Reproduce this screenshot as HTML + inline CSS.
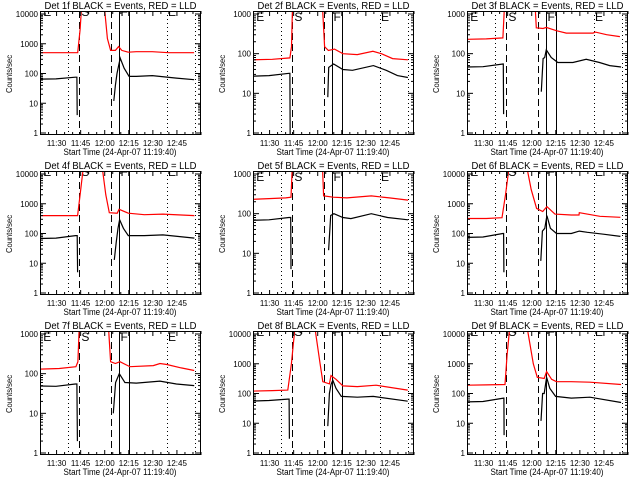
<!DOCTYPE html>
<html><head><meta charset="utf-8"><style>
html,body{margin:0;padding:0;background:#fff;}
svg{display:block;}
text{font-family:"Liberation Sans",sans-serif;fill:#000;}
</style></head><body>
<svg id="chart" width="640" height="480" viewBox="0 0 640 480" xmlns="http://www.w3.org/2000/svg">
<rect x="0" y="0" width="640" height="480" fill="#fff"/>
</svg>
<script>
// ---- shared axis data ----
const xTickLabels = ["11:30","11:45","12:00","12:15","12:30","12:45"];
const xTickMinutes = [10.33,25.33,40.33,55.33,70.33,85.33];
const markerMinutes = [17.5,24.4,44.2,49.4,55.6,79.1,96.6];
const markerStyles = ["dotted","dashed","dashed","solid","solid","dotted","dotted"];
const letterMinutes = [2,25.8,50.2,79.8];
const letterTexts = ["E","S","F","E"];
const detectorNames = ["1f","2f","3f","4f","5f","6f","7f","8f","9f"];
const decades = [4,3,3,4,3,4,3,4,4];

// ---- series data (minutes since 11:19:40, counts/sec); null = gap ----
const p1BlackT=[0,10,22,23,23.2,null,46,47,48,50,52.5,55.5,60,70,85,96];
const p1BlackV=[65,66,75,75,4,null,12,40,100,330,150,80,80,85,70,62];
const p1RedT=[0,23.5,25,26,40,42,44,47,49,51,55,60,70,80,96];
const p1RedV=[500,500,3000,20000,20000,1500,600,600,800,600,520,540,540,500,500];

const p2BlackT=[0,10,22.5,23,23.2,null,46.6,47.2,50.2,56,62,75,83,90,96.5];
const p2BlackV=[27,28,32,32,0.5,null,8,45,55,40,38,50,38,28,25];
const p2RedT=[0,12,23,24,24.9,42.6,44.6,47,50.8,56,65,74.7,80,87,96.5];
const p2RedV=[70,72,78,150,5000,5000,150,120,130,100,95,115,100,75,70];

const p3BlackT=[0,10,22.4,22.6,22.8,null,46.3,47.4,48.4,49.4,52.5,56.6,66,74.3,82.6,88.9,96];
const p3BlackV=[46,47,55,55,3,null,11,75,80,125,80,60,60,72,60,50,46];
const p3RedT=[0,12,22.4,23.9,41.8,43.2,47.4,49.4,55.7,61.9,78.5,80,87,95.3];
const p3RedV=[230,235,250,5000,5000,450,430,460,380,330,330,350,300,270];

const p4BlackT=[0,10,22.1,23.2,23.4,null,46.3,47.5,48.6,49.6,52,55,65,76.6,96.2];
const p4BlackV=[68,70,85,85,5,null,13,50,150,290,150,85,85,90,70];
const p4RedT=[0,23.4,25,27.2,38.6,41,43.2,48.1,49.3,55,65,76.6,96.2];
const p4RedV=[400,400,2000,20000,20000,2000,500,480,650,480,430,450,400];

const p5BlackT=[0,10,22.4,23.5,23.7,null,47.1,48.4,50.4,56,61,73.7,83.9,96.6];
const p5BlackV=[68,70,80,80,4,null,12,90,100,80,75,100,80,70];
const p5RedT=[0,10,20.4,23.7,25,42.8,44,50,58.5,73.7,85,96.6];
const p5RedV=[230,240,250,260,5000,5000,280,260,250,280,250,220];

const p6BlackT=[0,10,22.3,22.8,23,null,46,47,48.5,49.8,52,55.8,65,70,75,85,95.6];
const p6BlackV=[74,76,100,100,5,null,12,120,150,400,150,100,100,120,110,95,80];
const p6RedT=[0,12,21.8,24,26.4,37,40,43.4,47.2,49.8,54.8,65,69.8,70,82.8,95.6];
const p6RedV=[320,320,340,2000,20000,20000,3000,700,550,800,450,420,420,500,380,350];

const p7BlackT=[0,10,22,23,23.3,null,45.7,47.1,49.4,52.9,60,74.8,85,96.1];
const p7BlackV=[49,48,55,55,2,null,10,60,100,60,58,65,55,50];
const p7RedT=[0,12,22.4,23.6,24.9,41.9,44,47,49.8,56,70.6,74.8,79,88,96.1];
const p7RedV=[130,135,150,200,5000,5000,200,180,200,150,160,180,170,140,120];

const p8BlackT=[0,10,21.7,22.5,22.7,null,46.6,47.6,48.6,49.7,51.7,55,65,74.9,96.4];
const p8BlackV=[56,58,65,65,3,null,8,100,200,280,150,80,75,80,55];
const p8RedT=[0,12,21.7,23.9,26.3,38.3,41.8,43.5,47.6,48.6,51.7,56,65,76.7,96.4];
const p8RedV=[120,125,130,1000,20000,20000,1000,250,210,400,300,180,170,190,130];

const p9BlackT=[0,10,22.8,23,23.1,null,46.1,47.1,48.1,49.6,51.6,55.2,65,76.6,96];
const p9BlackV=[52,54,70,70,4,null,12,100,100,350,150,80,70,75,50];
const p9RedT=[0,12,23.7,25,26.8,37.2,41.3,43.8,48.1,49.6,52.7,55.8,65,76.6,96];
const p9RedV=[190,195,200,2000,20000,20000,1000,350,320,550,300,250,250,240,200];

const blackT=[p1BlackT,p2BlackT,p3BlackT,p4BlackT,p5BlackT,p6BlackT,p7BlackT,p8BlackT,p9BlackT];
const blackV=[p1BlackV,p2BlackV,p3BlackV,p4BlackV,p5BlackV,p6BlackV,p7BlackV,p8BlackV,p9BlackV];
const redT=[p1RedT,p2RedT,p3RedT,p4RedT,p5RedT,p6RedT,p7RedT,p8RedT,p9RedT];
const redV=[p1RedV,p2RedV,p3RedV,p4RedV,p5RedV,p6RedV,p7RedV,p8RedV,p9RedV];

const NS="http://www.w3.org/2000/svg";
const svg=document.getElementById('chart');
function mk(tag,attrs,parent){const e=document.createElementNS(NS,tag);for(const k in attrs)e.setAttribute(k,attrs[k]);(parent||svg).appendChild(e);return e;}

const colX=[0,213,427], rowY=[0,160,320];
const PXMIN=161/100.33;

for(let p=0;p<9;p++){
  const ox=colX[p%3], oy=rowY[Math.floor(p/3)];
  const L=ox+40,R=ox+201,T=oy+11,B=oy+135;
  const nd=decades[p];
  const yBase=oy+133, ys=(133-14)/nd;
  const xs=t=>L+t*PXMIN;
  const yv=v=>yBase-Math.log10(v)*ys;
  const g=mk('g',{});
  
  
  const clipId='clip'+p;
  const cp=mk('clipPath',{id:clipId},g);
  mk('rect',{x:L,y:T,width:R-L,height:B-T},cp);

  // title
  const title=mk('text',{x:(L+R)/2,y:oy+9,'font-size':10,'text-anchor':'middle',textLength:152,lengthAdjust:'spacingAndGlyphs'},g);
  title.textContent='Det '+detectorNames[p]+' BLACK = Events, RED = LLD';
  
  

  // markers
  for(let i=0;i<markerMinutes.length;i++){
    const x=Math.round(xs(markerMinutes[i]))+0.5;
    const st=markerStyles[i];
    const ln=mk('line',{x1:x,x2:x,y1:T,y2:B,stroke:'#000','stroke-width':1},g);
    if(st==='dotted')ln.setAttribute('stroke-dasharray','1 3');
    if(st==='dashed')ln.setAttribute('stroke-dasharray','7 4');
    
    
  }
  // letters
  const lg=mk('g',{'clip-path':'url(#'+clipId+')'},g);
  for(let i=0;i<letterMinutes.length;i++){
    const lt=mk('text',{x:xs(letterMinutes[i]),y: nd===3? T+10 : T+5,'font-size':12},lg);
    lt.textContent=letterTexts[i];
    
    
  }

  // series
  function series(ts,vs,color,name){
    let d='',pen=false;
    for(let i=0;i<ts.length;i++){
      if(ts[i]===null||vs[i]===null){pen=false;continue;}
      d+=(pen?'L':'M')+xs(ts[i]).toFixed(1)+' '+yv(vs[i]).toFixed(1)+' ';
      pen=true;
    }
    const pth=mk('path',{d:d,fill:'none',stroke:color,'stroke-width':1.2,'clip-path':'url(#'+clipId+')'},g);
    
    
  }
  series(redT[p],redV[p],'#ff0000','lld-series');
  series(blackT[p],blackV[p],'#000000','events-series');

  // frame
  const fr=mk('rect',{x:L+0.5,y:T+0.5,width:R-L-1,height:B-T-1,fill:'none',stroke:'#000','stroke-width':1},g);
  
  

  // y ticks
  for(let k=0;k<=nd;k++){
    const y=yv(Math.pow(10,k));
    mk('line',{x1:L,x2:L+6,y1:y,y2:y,stroke:'#000'},g);
    mk('line',{x1:R-6,x2:R,y1:y,y2:y,stroke:'#000'},g);
    const tl=mk('text',{x:L-2,y:y+3,'font-size':8,'text-anchor':'end'},g);
    tl.textContent=String(Math.pow(10,k));
    
    
    if(k<nd){for(let m=2;m<=9;m++){const ym=yv(m*Math.pow(10,k));
      mk('line',{x1:L,x2:L+3,y1:ym,y2:ym,stroke:'#000'},g);
      mk('line',{x1:R-3,x2:R,y1:ym,y2:ym,stroke:'#000'},g);}}
  }
  // x ticks
  for(let m=0.33;m<=100.33;m+=5){
    const x=xs(m);
    const major=xTickMinutes.some(t=>Math.abs(t-m)<0.1);
    const len=major?5:3;
    mk('line',{x1:x,x2:x,y1:B-len,y2:B,stroke:'#000'},g);
    mk('line',{x1:x,x2:x,y1:T,y2:T+len,stroke:'#000'},g);
  }
  for(let i=0;i<xTickLabels.length;i++){
    const xl=mk('text',{x:xs(xTickMinutes[i]),y:oy+146,'font-size':8,'text-anchor':'middle'},g);
    xl.textContent=xTickLabels[i];
    
    
  }
  const xt=mk('text',{x:ox+120,y:oy+155,'font-size':9,'text-anchor':'middle',textLength:113,lengthAdjust:'spacingAndGlyphs'},g);
  xt.textContent='Start Time (24-Apr-07 11:19:40)';
  
  
  const yt=mk('text',{x:0,y:0,'font-size':8,'text-anchor':'middle',textLength:38,lengthAdjust:'spacingAndGlyphs',transform:'translate('+(ox+12)+','+(oy+74)+') rotate(-90)'},g);
  yt.textContent='Counts/sec';
  
  
}
</script>
</body></html>
